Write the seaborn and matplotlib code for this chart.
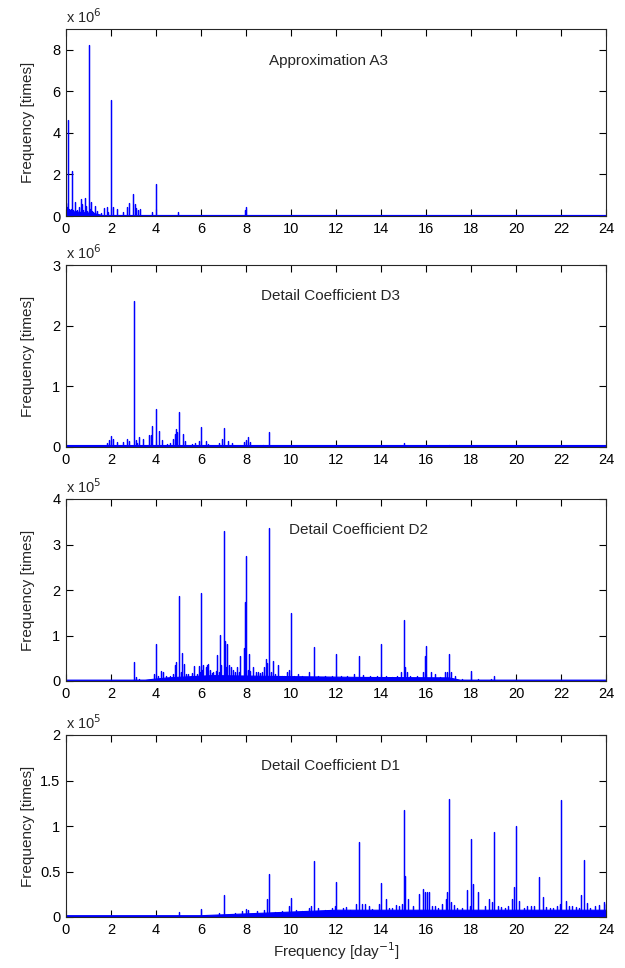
import numpy as np
import pandas as pd
import seaborn as sns
import matplotlib.pyplot as plt

# Approximation A3, heights in units of 1e6
a3_freq = [0.02, 0.05, 0.1, 0.12, 0.18, 0.22, 0.28, 0.32, 0.38, 0.45, 0.5, 0.57, 0.6,
           0.65, 0.7, 0.75, 0.83, 0.88, 0.9, 0.95, 1.0, 1.03, 1.05, 1.1, 1.15, 1.2,
           1.27, 1.39, 1.54, 1.7, 1.81, 1.88, 2.0, 2.1, 2.25, 2.52, 2.7, 2.8, 2.97,
           3.07, 3.13, 3.18, 3.27, 3.84, 4.0, 4.98, 7.96, 8.0]
a3_height = [0.64, 0.45, 4.62, 0.35, 0.3, 0.35, 2.17, 0.3, 0.69, 0.25, 0.3, 0.45, 0.2,
             0.8, 0.56, 0.3, 0.85, 0.3, 0.5, 0.25, 8.23, 0.3, 0.35, 0.69, 0.25, 0.18,
             0.5, 0.26, 0.16, 0.37, 0.42, 0.2, 5.59, 0.42, 0.32, 0.18, 0.42, 0.64, 1.06,
             0.56, 0.37, 0.29, 0.32, 0.18, 1.52, 0.19, 0.29, 0.45]
a3_floor_x = [0, 1.2, 1.6, 24]
a3_floor_y = [0.25, 0.15, 0.05, 0.05]

# Detail coefficient D3, heights in units of 1e6
d3_freq = [1.83, 1.9, 2.0, 2.1, 2.28, 2.52, 2.7, 2.82, 3.0, 3.1, 3.15, 3.25, 3.44,
           3.68, 3.76, 3.81, 4.0, 4.14, 4.26, 4.48, 4.63, 4.77, 4.85, 4.9, 4.95, 5.0,
           5.2, 5.3, 5.6, 5.75, 5.93, 6.0, 6.2, 6.33, 6.78, 6.93, 7.0, 7.18, 7.37,
           7.92, 8.0, 8.07, 8.2, 8.76, 9.0, 15.0, 17.0]
d3_height = [0.07, 0.12, 0.18, 0.13, 0.08, 0.08, 0.13, 0.1, 2.41, 0.12, 0.07, 0.17, 0.13,
             0.19, 0.19, 0.35, 0.62, 0.27, 0.12, 0.05, 0.06, 0.14, 0.21, 0.29, 0.25, 0.57,
             0.21, 0.1, 0.05, 0.07, 0.1, 0.33, 0.1, 0.05, 0.06, 0.13, 0.31, 0.1, 0.06,
             0.09, 0.12, 0.17, 0.08, 0.04, 0.25, 0.07, 0.04]
d3_floor_x = [0, 24]
d3_floor_y = [0.03, 0.03]

# Detail coefficient D2, heights in units of 1e5
d2_freq = [3.0, 3.1, 3.25, 3.9, 4.0, 4.1, 4.2, 4.3, 4.45, 4.6, 4.75, 4.85, 4.9, 5.0,
           5.1, 5.15, 5.25, 5.4, 5.55, 5.6, 5.7, 5.8, 5.9, 6.0, 6.1, 6.2, 6.25, 6.3,
           6.4, 6.55, 6.7, 6.8, 6.85, 6.9, 7.0, 7.05, 7.15, 7.25, 7.35, 7.5, 7.6,
           7.75, 7.9, 7.95, 8.0, 8.15, 8.3, 8.45, 8.55, 8.7, 8.8, 8.9, 8.95, 9.0, 9.2,
           9.4, 9.6, 9.8, 9.9, 10.0, 10.15, 10.3, 10.5, 10.8, 11.0, 11.2, 11.5, 11.8,
           12.0, 12.2, 12.5, 12.8, 13.0, 13.2, 13.5, 13.8, 14.0, 14.2, 14.5, 14.7,
           14.9, 15.0, 15.05, 15.15, 15.3, 15.6, 15.85, 15.95, 16.0, 16.2, 16.4, 16.6,
           16.85, 16.95, 17.0, 17.1, 17.3, 17.6, 18.0, 18.3, 18.9, 19.0,
           5.35, 5.95, 6.05, 6.5, 6.65, 7.1, 7.4, 7.7, 8.1, 8.2, 8.6, 9.1, 9.3, 9.7]
d2_height = [0.42, 0.08, 0.04, 0.15, 0.81, 0.1, 0.22, 0.2, 0.12, 0.12, 0.15, 0.35, 0.42, 1.87,
             0.2, 0.62, 0.38, 0.15, 0.12, 0.18, 0.32, 0.15, 0.32, 1.93, 0.35, 0.3, 0.35, 0.38,
             0.25, 0.2, 0.57, 0.2, 1.02, 0.35, 3.3, 0.88, 0.82, 0.35, 0.3, 0.2, 0.3,
             0.55, 0.73, 1.74, 2.75, 0.6, 0.3, 0.2, 0.2, 0.2, 0.3, 0.48, 0.4, 3.36, 0.45,
             0.35, 0.1, 0.2, 0.25, 1.49, 0.12, 0.15, 0.1, 0.2, 0.75, 0.12, 0.12, 0.1,
             0.59, 0.1, 0.12, 0.15, 0.55, 0.13, 0.1, 0.12, 0.82, 0.1, 0.08, 0.12,
             0.2, 1.35, 0.3, 0.2, 0.1, 0.12, 0.2, 0.55, 0.78, 0.2, 0.15, 0.08,
             0.2, 0.2, 0.6, 0.2, 0.12, 0.05, 0.22, 0.04, 0.05, 0.1,
             0.15, 0.2, 0.25, 0.18, 0.22, 0.3, 0.25, 0.2, 0.25, 0.22, 0.18, 0.2, 0.15, 0.12]
d2_floor_x = [0, 3.5, 4.5, 6.5, 9.5, 13.0, 17.0, 17.5, 24]
d2_floor_y = [0.03, 0.03, 0.08, 0.13, 0.11, 0.09, 0.08, 0.03, 0.03]

# Detail coefficient D1, heights in units of 1e5
d1_freq = [5.0, 6.0, 6.8, 7.0, 7.5, 7.8, 8.0, 8.1, 8.5, 8.8, 8.95, 9.0, 9.3, 9.6, 9.9,
           10.0, 10.2, 10.5, 10.8, 10.9, 11.0, 11.2, 11.5, 11.8, 11.95, 12.0, 12.3,
           12.6, 12.9, 13.0, 13.15, 13.3, 13.6, 13.9, 14.0, 14.2, 14.5, 14.8, 14.95,
           15.0, 15.05, 15.2, 15.4, 15.7, 15.85, 15.95, 16.05, 16.15, 16.4, 16.7, 16.9,
           16.95, 17.0, 17.1, 17.4, 17.6, 17.8, 17.95, 18.0, 18.1, 18.3, 18.6, 18.8,
           18.95, 19.0, 19.2, 19.5, 19.8, 19.9, 20.0, 20.15, 20.5, 20.8, 21.0, 21.2,
           21.5, 21.8, 21.95, 22.0, 22.2, 22.5, 22.8, 22.9, 23.0, 23.15, 23.5, 23.9, 24.0,
           12.45, 13.45, 14.35, 14.65, 16.25, 16.55, 17.25, 19.35, 19.65, 20.35, 20.65,
           21.35, 21.65, 22.35, 22.65, 23.3, 23.7]
d1_height = [0.05, 0.09, 0.04, 0.24, 0.04, 0.07, 0.09, 0.08, 0.07, 0.08, 0.2, 0.47, 0.06, 0.07, 0.12,
             0.21, 0.08, 0.07, 0.1, 0.12, 0.62, 0.1, 0.08, 0.1, 0.12, 0.39, 0.1,
             0.08, 0.14, 0.82, 0.14, 0.14, 0.09, 0.14, 0.37, 0.2, 0.1, 0.12, 0.14,
             1.18, 0.45, 0.2, 0.12, 0.25, 0.31, 0.27, 0.27, 0.27, 0.12, 0.14, 0.2,
             0.28, 1.3, 0.17, 0.1, 0.1, 0.3, 0.12, 0.86, 0.36, 0.28, 0.12, 0.2,
             0.17, 0.93, 0.12, 0.1, 0.2, 0.33, 1.0, 0.18, 0.12, 0.12, 0.44, 0.22,
             0.1, 0.12, 0.14, 1.29, 0.18, 0.12, 0.1, 0.24, 0.63, 0.15, 0.12, 0.16, 0.14,
             0.11, 0.12, 0.1, 0.13, 0.12, 0.1, 0.13, 0.11, 0.12, 0.1, 0.12,
             0.11, 0.1, 0.12, 0.11, 0.1, 0.13]
d1_floor_x = [0, 6, 8, 10, 12, 24]
d1_floor_y = [0.02, 0.02, 0.04, 0.06, 0.08, 0.08]

panels = [
    ('Approximation A3', a3_freq, a3_height, a3_floor_x, a3_floor_y, 9, [0, 2, 4, 6, 8], ['0', '2', '4', '6', '8'], '6', 9.04),
    ('Detail Coefficient D3', d3_freq, d3_height, d3_floor_x, d3_floor_y, 3, [0, 1, 2, 3], ['0', '1', '2', '3'], '6', 8.65),
    ('Detail Coefficient D2', d2_freq, d2_height, d2_floor_x, d2_floor_y, 4, [0, 1, 2, 3, 4], ['0', '1', '2', '3', '4'], '5', 9.92),
    ('Detail Coefficient D1', d1_freq, d1_height, d1_floor_x, d1_floor_y, 2, [0, 0.5, 1, 1.5, 2], ['0', '0.5', '1', '1.5', '2'], '5', 8.65),
]

# axes boxes in pixels: top, bottom
boxes = [(29, 216), (265, 447), (499, 681), (735, 917)]

sns.set_style('ticks')
plt.rcParams['font.family'] = ['Liberation Sans', 'DejaVu Sans']

W, H = 625, 968
fig = plt.figure(figsize=(W / 100, H / 100), dpi=100)


def spikes(freq, height):
    xs, ys = [], []
    for f, h in sorted(zip(freq, height)):
        xs += [f, f, f]
        ys += [0, h, 0]
    return pd.DataFrame({'f': xs, 'v': ys})


for (title, freq, height, fx, fy, ymax, yt, ytl, expo, tx), (top, bot) in zip(panels, boxes):
    ax = fig.add_axes([66 / W, (H - bot) / H, 540 / W, (bot - top) / H])
    ax.fill_between(fx, 0, fy, color='#0000ff', lw=0.8)
    sns.lineplot(data=spikes(freq, height), x='f', y='v', ax=ax, estimator=None,
                 sort=False, color='#0000ff', lw=0.9)
    ax.set_xlim(0, 24)
    ax.set_ylim(0, ymax)
    ax.set_xticks(range(0, 25, 2))
    ax.set_yticks(yt)
    ax.set_yticklabels(ytl)
    ax.tick_params(direction='in', top=True, right=True, length=5, width=0.8,
                   labelsize=10.5, pad=4, colors='black')
    for s in ax.spines.values():
        s.set_linewidth(0.8)
    ax.set_xlabel('')
    ax.set_ylabel('Frequency [times]', fontsize=11)
    ax.yaxis.set_label_coords(-0.057, 0.5)
    ax.text(0.0, 1.015, 'x 10$^{%s}$' % expo, transform=ax.transAxes,
            ha='left', va='bottom', fontsize=10.5)
    ax.text(tx, ymax * 0.83, title, ha='left', va='center', fontsize=11)

ax.set_xlabel('Frequency [day$^{-1}$]', fontsize=11, labelpad=3)

fig.savefig('out.png', dpi=100)
